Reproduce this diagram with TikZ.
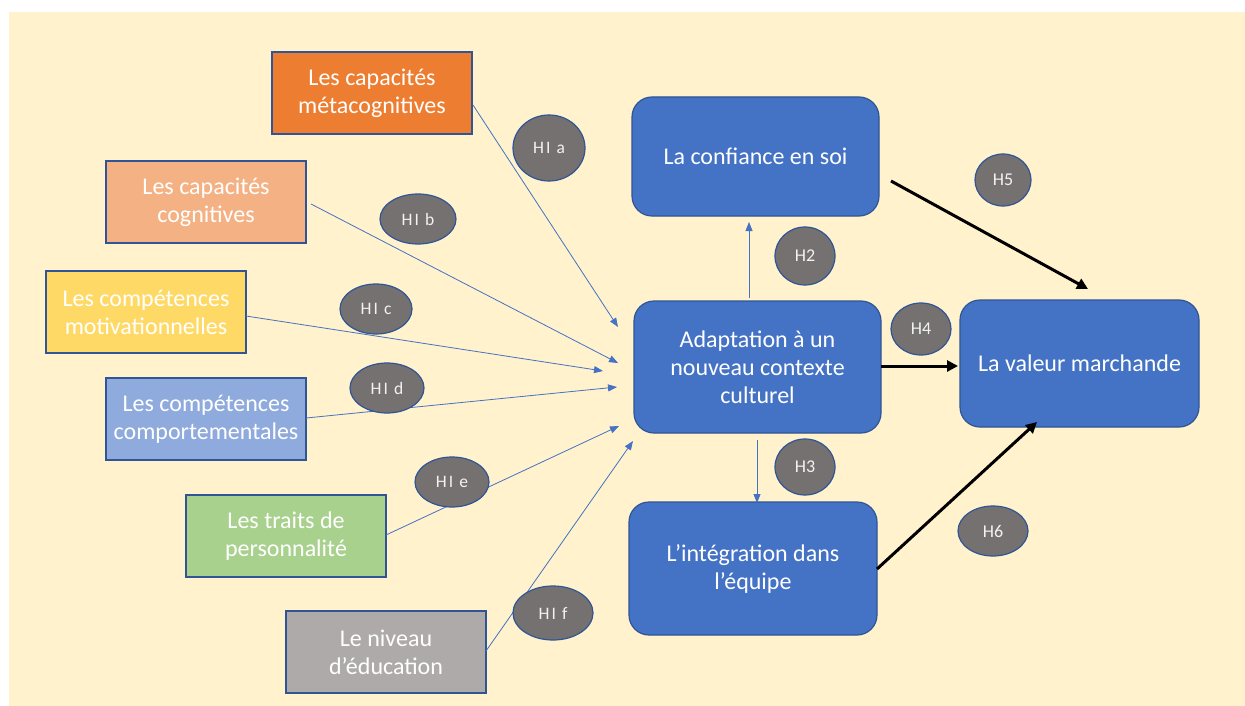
\documentclass[tikz,border=0pt]{standalone}
\usepackage{fontspec}
\setmainfont{Carlito}
\usetikzlibrary{arrows.meta,shapes.geometric,calc}
\definecolor{bg}{HTML}{FFF2CC}
\definecolor{bordc}{HTML}{2F5597}
\definecolor{mainblue}{HTML}{4472C4}
\definecolor{cmeta}{HTML}{ED7D31}
\definecolor{ccog}{HTML}{F4B183}
\definecolor{cmot}{HTML}{FFD966}
\definecolor{ccomp}{HTML}{8FAADC}
\definecolor{ctrait}{HTML}{A9D18E}
\definecolor{cedu}{HTML}{AEAAAA}
\definecolor{cell}{HTML}{767171}
\tikzset{
  srcbox/.style={draw=bordc, line width=1.5pt, minimum width=200pt, minimum height=82pt,
    text=white, align=center, inner sep=0pt, font=\fontsize{24}{28}\selectfont},
  bluebox/.style={draw=bordc, line width=1.2pt, fill=mainblue, rounded corners=20pt,
    text=white, align=center, inner sep=0pt, font=\fontsize{24}{28}\selectfont},
  hyp/.style={ellipse, draw=bordc, line width=1.2pt, fill=cell, inner sep=0pt,
    text=white!95!black, font=\fontsize{18}{20}\selectfont},
  hypl/.style={hyp, font=\fontsize{17.5}{20}\selectfont\addfontfeature{LetterSpace=12}},
  thin/.style={draw=mainblue, line width=0.8pt, -{Triangle[length=9pt,width=7pt]}},
  thick/.style={draw=black, line width=3pt, -{Triangle[length=11pt,width=11pt]}},
}
\begin{document}
\begin{tikzpicture}[x=1pt,y=-1pt]
\useasboundingbox (0,0) rectangle (1245,706);
\fill[bg] (9,12) rectangle (1245,706);

% source boxes
\node[srcbox, fill=cmeta] (meta) at (372,93) {Les capacités\\métacognitives};
\node[srcbox, fill=ccog] (cog) at (206,202) {Les capacités\\cognitives};
\node[srcbox, fill=cmot] (motiv) at (146,312) {Les compétences\\motivationnelles};
\node[srcbox, fill=ccomp] (comp) at (206,419) {Les compétences\\comportementales};
\node[srcbox, fill=ctrait] (traits) at (286,536) {Les traits de\\personnalité};
\node[srcbox, fill=cedu] (educ) at (386,652) {Le niveau\\d’éducation};

% blue boxes
\node[bluebox, minimum width=247pt, minimum height=119pt] (conf) at (755.5,156.5) {La confiance en soi};
\node[bluebox, minimum width=247pt, minimum height=132pt] (adapt) at (757.5,367) {Adaptation à un\\nouveau contexte\\culturel};
\node[bluebox, minimum width=248pt, minimum height=133pt] (integ) at (753,568.5) {L’intégration dans\\l’équipe};
\node[bluebox, minimum width=239pt, minimum height=127pt] (valeur) at (1079.5,363.5) {La valeur marchande};

% arrow end points
\coordinate (ta) at (618,327);
\coordinate (tb) at (618,363);
\coordinate (tc) at (603,371);
\coordinate (td) at (617,387);
\coordinate (te) at (619,426);
\coordinate (tf) at (633,441);
\coordinate (sa) at (473,105);
\coordinate (sb) at (311,204);
\coordinate (sc) at (246,316);
\coordinate (sd) at (306,418);
\coordinate (se) at (386,535);
\coordinate (sf) at (486,651);

\draw[thin] (sa) -- (ta);
\draw[thin] (sb) -- (tb);
\draw[thin] (sc) -- (tc);
\draw[thin] (sd) -- (td);
\draw[thin] (se) -- (te);
\draw[thin] (sf) -- (tf);

\coordinate (h2s) at (749,298);
\coordinate (h2e) at (749,222);
\coordinate (h3s) at (757,440);
\coordinate (h3e) at (757,503);
\draw[thin] (h2s) -- (h2e);
\draw[thin] (h3s) -- (h3e);

\coordinate (h4s) at (881,366);
\coordinate (h4e) at (958,366);
\coordinate (h5s) at (891,181);
\coordinate (h5e) at (1088,289);
\coordinate (h6s) at (877,569);
\coordinate (h6e) at (1037,422);
\draw[thick] (h4s) -- (h4e);
\draw[thick] (h5s) -- (h5e);
\draw[thick] (h6s) -- (h6e);

% hypothesis ellipses
\node[hypl, minimum width=72pt, minimum height=66pt] (ha) at (549,148) {HI a};
\node[hypl, minimum width=76pt, minimum height=50pt] (hb) at (418,219) {HI b};
\node[hypl, minimum width=72pt, minimum height=50pt] (hc) at (376,309) {HI c};
\node[hypl, minimum width=74pt, minimum height=50pt] (hd) at (387,388) {HI d};
\node[hypl, minimum width=74pt, minimum height=50pt] (he) at (452,482) {HI e};
\node[hypl, minimum width=80pt, minimum height=54pt] (hf) at (553,613) {HI f};
\node[hyp, minimum width=60pt, minimum height=58pt] (h2) at (805,256) {H2};
\node[hyp, minimum width=60pt, minimum height=56pt] (h3) at (805,467) {H3};
\node[hyp, minimum width=60pt, minimum height=52pt] (h4) at (921,329) {H4};
\node[hyp, minimum width=56pt, minimum height=52pt] (h5) at (1003,180) {H5};
\node[hyp, minimum width=70pt, minimum height=50pt] (h6) at (993,531) {H6};
\end{tikzpicture}
\end{document}
